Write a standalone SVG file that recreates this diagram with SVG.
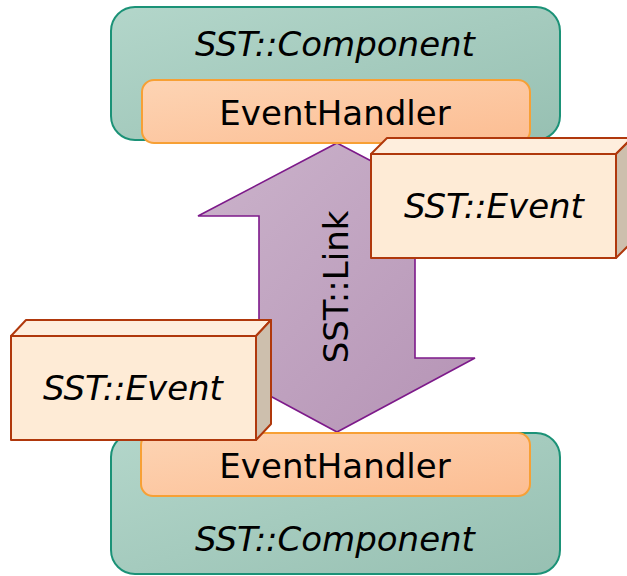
<svg xmlns="http://www.w3.org/2000/svg" width="627" height="576" viewBox="0 0 627 576">
  <style>
    text { font-family: "DejaVu Sans", "Liberation Sans", sans-serif; font-size: 34px; fill: #000; text-anchor: middle; }
    .it { font-style: italic; }
    .comp { fill: url(#gComp); stroke: #1b9277; stroke-width: 2; }
    .handler { fill: url(#gHandler); stroke: #f7a035; stroke-width: 2; }
    .front { fill: #feebd6; stroke: #b0380c; stroke-width: 2; stroke-linejoin: round; }
    .top { fill: #feeedd; stroke: #b0380c; stroke-width: 2; stroke-linejoin: round; }
    .side { fill: #cdbfad; stroke: #b0380c; stroke-width: 2; stroke-linejoin: round; }
    .link { fill: url(#gLink); stroke: #7d1a8a; stroke-width: 1.6; stroke-linejoin: miter; }
  </style>
  <defs>
    <linearGradient id="gComp" x1="0" y1="0" x2="1" y2="1">
      <stop offset="0" stop-color="#b3d6ca"/>
      <stop offset="1" stop-color="#97c0b2"/>
    </linearGradient>
    <linearGradient id="gHandler" x1="0" y1="0" x2="1" y2="1">
      <stop offset="0" stop-color="#fdd4b4"/>
      <stop offset="1" stop-color="#fcbd92"/>
    </linearGradient>
    <linearGradient id="gLink" x1="0" y1="0" x2="1" y2="1">
      <stop offset="0" stop-color="#cbb3cb"/>
      <stop offset="1" stop-color="#b593b5"/>
    </linearGradient>
  </defs>

  <!-- upper component -->
  <g id="componentTop">
    <rect class="comp" x="111" y="7" width="449" height="133" rx="24"/>
    <text class="it" x="335" y="56">SST::Component</text>
  </g>

  <!-- lower component -->
  <g id="componentBottom">
    <rect class="comp" x="111" y="433" width="449" height="141" rx="24"/>
    <text class="it" x="335" y="551">SST::Component</text>
  </g>

  <!-- link between the two handlers -->
  <g id="connectors">
    <g id="link">
      <polygon class="link" points="337,143 415,184 415,358 475,358 337,432 259,390 259,216 198,216"/>
      <text transform="translate(348,287) rotate(-90)" x="0" y="0">SST::Link</text>
    </g>
  </g>

  <g id="handlerTop">
    <rect class="handler" x="142" y="80" width="388" height="63" rx="12"/>
    <text x="335" y="125">EventHandler</text>
  </g>

  <g id="handlerBottom">
    <rect class="handler" x="141" y="433" width="389" height="63" rx="12"/>
    <text x="335" y="478">EventHandler</text>
  </g>

  <!-- event travelling downwards -->
  <g id="eventRight">
    <polygon class="top" points="371,154 387,138 632,138 616,154"/>
    <polygon class="side" points="616,154 632,138 632,242 616,258"/>
    <rect class="front" x="371" y="154" width="245" height="104"/>
    <text class="it" x="494" y="218">SST::Event</text>
  </g>

  <!-- event travelling upwards -->
  <g id="eventLeft">
    <polygon class="top" points="11,336 26,320 271,320 256,336"/>
    <polygon class="side" points="256,336 271,320 271,424 256,440"/>
    <rect class="front" x="11" y="336" width="245" height="104"/>
    <text class="it" x="133" y="400">SST::Event</text>
  </g>
</svg>
